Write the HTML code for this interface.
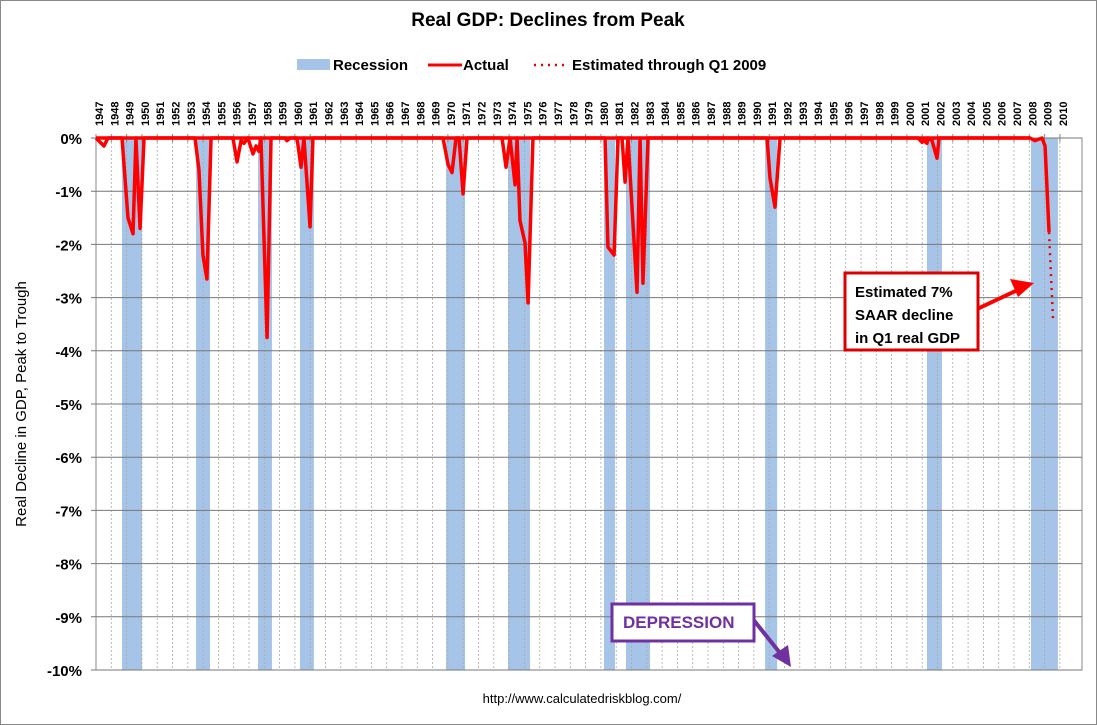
<!DOCTYPE html>
<html><head><meta charset="utf-8"><style>
html,body{margin:0;padding:0;background:#fff}
svg{display:block;font-family:"Liberation Sans",sans-serif}
</style></head><body>
<svg id="chart" width="1097" height="725" viewBox="0 0 1097 725">
<rect x="0.5" y="0.5" width="1096" height="724" fill="#fff" stroke="#888"/>
<text x="548" y="26" text-anchor="middle" font-size="19" font-weight="bold">Real GDP: Declines from Peak</text>
<g>
<g><rect x="297" y="59" width="33" height="11" fill="#a6c3e8"/><text x="333" y="70" font-size="15" font-weight="bold">Recession</text></g>
<g><line x1="428" y1="65" x2="462" y2="65" stroke="#f00" stroke-width="3"/><text x="463" y="70" font-size="15" font-weight="bold">Actual</text></g>
<g><line x1="534" y1="65" x2="568" y2="65" stroke="#e00" stroke-width="2.5" stroke-dasharray="2,5"/><text x="572" y="70" font-size="15" font-weight="bold">Estimated through Q1 2009</text></g>
</g>
<rect x="96" y="138" width="986" height="532" fill="none" stroke="#888"/>
<g id="bands"></g><g id="grid"></g><g id="series"></g><g id="labels"></g>
<text transform="translate(26,404) rotate(-90)" text-anchor="middle" font-size="15">Real Decline in GDP, Peak to Trough</text>
<text x="582" y="703" text-anchor="middle" font-size="13">http://www.calculatedriskblog.com/</text>
<g>
<line x1="975" y1="310" x2="1022" y2="288" stroke="#f00" stroke-width="4"/>
<polygon points="1034,283 1010,279 1018,297" fill="#f00"/>
<rect x="845" y="273" width="133" height="77" fill="#fff" stroke="#d00" stroke-width="3"/>
<text x="855" y="297" font-size="15" font-weight="bold">Estimated 7%</text>
<text x="855" y="320" font-size="15" font-weight="bold">SAAR decline</text>
<text x="855" y="343" font-size="15" font-weight="bold">in Q1 real GDP</text>
</g>
<g>
<line x1="752" y1="618" x2="784" y2="658" stroke="#7030a0" stroke-width="4"/>
<polygon points="791,667 772,656 788,645" fill="#7030a0"/>
<rect x="612" y="604" width="142" height="37" fill="#fff" stroke="#7030a0" stroke-width="3"/>
<text x="623" y="628" font-size="17" font-weight="bold" fill="#7030a0">DEPRESSION</text>
</g>
</svg>
<script>
const recStart=[1948.70,1953.54,1957.59,1960.33,1969.88,1973.93,1980.20,1981.64,1990.73,2001.31,2008.11];
const recEnd=[1950.01,1954.45,1958.50,1961.24,1971.12,1975.37,1980.92,1983.21,1991.52,2002.29,2009.87];
const actualDates=[1947.0,1947.52,1947.78,1948.70,1949.09,1949.42,1949.61,1949.88,1950.14,1953.47,1953.73,1953.99,1954.25,1954.52,1955.95,1956.22,1956.48,1956.67,1956.93,1957.26,1957.46,1957.65,1957.78,1958.18,1958.44,1959.35,1959.48,1959.68,1960.14,1960.40,1960.59,1960.99,1961.18,1969.68,1970.01,1970.27,1970.53,1970.73,1970.99,1971.25,1973.54,1973.80,1974.06,1974.39,1974.52,1974.71,1975.04,1975.24,1975.56,1980.27,1980.46,1980.86,1981.12,1981.38,1981.58,1981.77,1982.36,1982.56,1982.75,1983.08,1990.86,1991.05,1991.38,1991.71,2000.73,2000.99,2001.12,2001.31,2001.38,2001.64,2001.97,2002.10,2008.05,2008.37,2008.83,2009.03,2009.29];
const actualValues=[0,-0.15,0,0,-1.5,-1.8,0,-1.7,0,0,-0.6,-2.2,-2.65,0,0,-0.45,-0.05,-0.1,0,-0.3,-0.15,-0.25,0,-3.75,0,0,-0.05,0,0,-0.55,0,-1.67,0,0,-0.5,-0.65,0,0,-1.05,0,0,-0.55,0,-0.88,0,-1.55,-1.97,-3.1,0,0,-2.05,-2.2,0,0,-0.83,0,-2.9,0,-2.73,0,0,-0.75,-1.3,0,0,-0.08,-0.05,-0.1,0,-0.05,-0.38,0,0,-0.05,0,-0.15,-1.77];
const estDates=[2009.29,2009.55];
const estValues=[-1.77,-3.42];
const yTicks=[0,-1,-2,-3,-4,-5,-6,-7,-8,-9,-10];
const yearLabels=[];for(let y=1947;y<=2010;y++)yearLabels.push(y);
const NS="http://www.w3.org/2000/svg";
const X=y=>96+(y-1947)*15.3;
const Y=v=>138-v*53.2;
function mk(tag,attrs,parent){const e=document.createElementNS(NS,tag);for(const k in attrs)e.setAttribute(k,attrs[k]);parent.appendChild(e);return e;}
const bands=document.getElementById('bands'),grid=document.getElementById('grid'),series=document.getElementById('series'),labels=document.getElementById('labels');
recStart.forEach((s,i)=>{const r=mk('rect',{x:X(s),y:138,width:X(recEnd[i])-X(s),height:532,fill:'#a6c3e8'},bands);

});
yearLabels.forEach(y=>{const x=X(y);
if(y>1947){const l=mk('line',{x1:x,y1:138,x2:x,y2:670,stroke:'#aaa','stroke-dasharray':'2,2','stroke-width':0.8},grid);

}
mk('line',{x1:x,y1:134,x2:x,y2:142,stroke:'#888'},grid);
const t=mk('text',{x:0,y:0,'font-size':11,'font-weight':'bold',transform:`translate(${x+7},126) rotate(-90)`},labels);t.textContent=y;

});
yTicks.forEach(v=>{const y=Y(v);
const l=mk('line',{x1:91,y1:y,x2:1082,y2:y,stroke:'#777','stroke-width':1},grid);


const t=mk('text',{x:82,y:y+6,'text-anchor':'end','font-size':15,'font-weight':'bold'},labels);t.textContent=v+'%';

});
const zero=mk('line',{x1:X(1947),y1:Y(0),x2:X(2008.05),y2:Y(0),stroke:'#f00','stroke-width':3.5},series);


const p=mk('polyline',{points:actualDates.map((d,i)=>X(d)+','+Y(actualValues[i])).join(' '),fill:'none',stroke:'#f00','stroke-width':3.5,'stroke-linejoin':'round'},series);


const e=mk('polyline',{points:estDates.map((d,i)=>X(d)+','+Y(estValues[i])).join(' '),fill:'none',stroke:'#e00','stroke-width':2.5,'stroke-dasharray':'2,5'},series);


</script>
</body></html>
